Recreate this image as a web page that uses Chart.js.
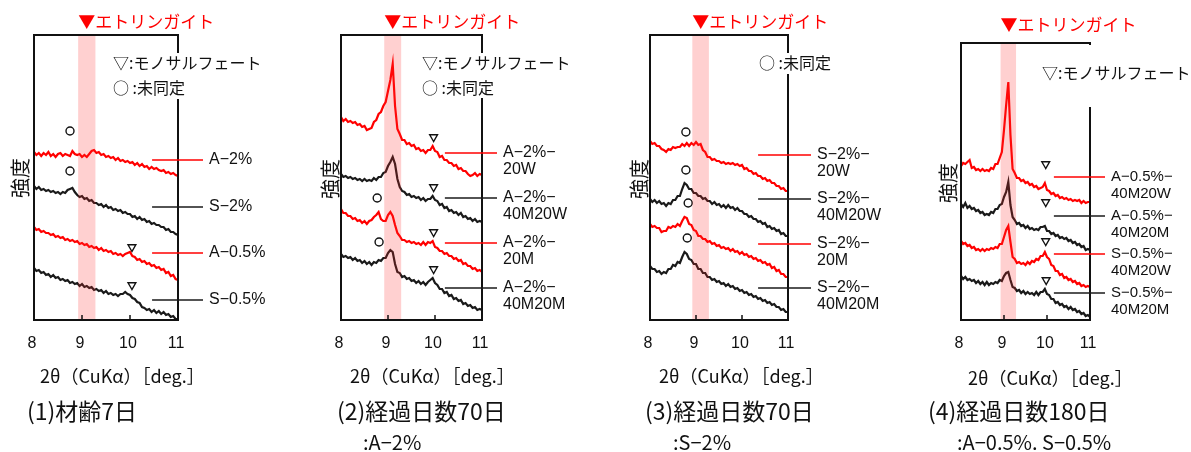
<!DOCTYPE html>
<html lang="ja">
<head>
<meta charset="UTF-8">
<title>XRD パターン</title>
<script src="https://cdn.jsdelivr.net/npm/chart.js"></script>
<style>
  body { margin: 0; background: #fff; }
  #wrap { position: relative; width: 1191px; height: 452px; overflow: hidden; }
  .panel { position: absolute; top: 0; }
</style>
</head>
<body>
<div id="wrap">
  <canvas class="panel" id="c1" width="300" height="452" style="left:0"></canvas>
  <canvas class="panel" id="c2" width="300" height="452" style="left:300px"></canvas>
  <canvas class="panel" id="c3" width="320" height="452" style="left:600px"></canvas>
  <canvas class="panel" id="c4" width="271" height="452" style="left:920px"></canvas>
</div>
<script>
// 2θ axis (deg.), shared by all panels
const twoTheta = [
  8.00, 8.05, 8.10, 8.15, 8.20, 8.25, 8.30, 8.35, 8.40, 8.45, 8.50, 8.55, 8.60, 8.65, 8.70, 8.75, 8.80, 8.85, 8.90, 8.95,
  9.00, 9.05, 9.10, 9.15, 9.20, 9.25, 9.30, 9.35, 9.40, 9.45, 9.50, 9.55, 9.60, 9.65, 9.70, 9.75, 9.80, 9.85, 9.90, 9.95,
  10.00, 10.05, 10.10, 10.15, 10.20, 10.25, 10.30, 10.35, 10.40, 10.45, 10.50, 10.55, 10.60, 10.65, 10.70, 10.75, 10.80, 10.85, 10.90, 10.95,
  11.00
];
const xTicks = [8, 9, 10, 11];
const ettringiteBand = [8.92, 9.28];

// (1) 材齢7日 — intensity (offset stacked)
const p1_A2 = [
  168, 165, 167, 164, 167, 165, 168, 164, 166, 163, 166, 167, 164, 166, 165, 164, 169, 166, 165, 166,
  163, 165, 163, 166, 169, 170, 167, 168, 165, 166, 163, 164, 162, 163, 160, 162, 159, 160, 158, 159,
  157, 158, 155, 157, 154, 156, 153, 154, 151, 153, 151, 152, 150, 149, 150, 147, 148, 146, 147, 145,
  144];
const p1_S2 = [
  134, 131, 133, 130, 131, 129, 130, 128, 129, 127, 128, 126, 128, 127, 130, 131, 132, 128, 125, 123,
  124, 121, 122, 119, 120, 117, 117, 115, 116, 113, 115, 112, 113, 110, 111, 109, 110, 107, 108, 106,
  106, 103, 104, 101, 103, 100, 101, 98, 99, 96, 97, 95, 95, 93, 93, 90, 91, 88, 88, 86,
  85];
const p1_A05 = [
  93, 90, 91, 88, 89, 87, 87, 85, 86, 83, 84, 82, 83, 80, 81, 79, 80, 78, 79, 76,
  77, 75, 76, 73, 74, 72, 73, 70, 72, 69, 70, 68, 69, 66, 67, 65, 66, 64, 66, 67,
  68, 64, 63, 60, 61, 58, 59, 56, 57, 54, 55, 52, 53, 50, 51, 47, 48, 44, 45, 41,
  40];
const p1_S05 = [
  52, 49, 50, 47, 48, 45, 46, 43, 45, 42, 43, 40, 41, 39, 40, 37, 38, 36, 37, 34,
  36, 33, 34, 32, 33, 30, 31, 29, 30, 27, 29, 26, 27, 25, 26, 24, 26, 26, 28, 26,
  25, 22, 21, 18, 17, 13, 12, 10, 11, 8, 10, 7, 9, 6, 8, 5, 6, 3, 4, 1,
  1];
const p1Labels = ['A−2%', 'S−2%', 'A−0.5%', 'S−0.5%'];
const p1LabelY = [160, 113, 67, 20];
const p1CircleX = [8.75, 8.75];
const p1CircleY = [189, 149];
const p1TriX = [10.04, 10.04];
const p1TriY = [73, 35];

// (2) 経過日数70日 : A-2%
const p2_20W = [
  203, 199, 201, 198, 199, 197, 198, 195, 196, 193, 194, 190, 191, 192, 198, 200, 206, 208, 214, 218,
  229, 240, 256, 214, 191, 186, 180, 180, 176, 177, 174, 175, 171, 172, 169, 170, 167, 170, 170, 174,
  169, 168, 163, 164, 160, 160, 157, 157, 154, 155, 151, 152, 149, 149, 146, 144, 145, 147, 144, 146,
  145];
const p2_40M20W = [
  146, 143, 144, 142, 143, 141, 142, 140, 141, 139, 141, 139, 140, 139, 142, 140, 143, 143, 147, 148,
  154, 158, 163, 156, 141, 133, 129, 128, 125, 126, 123, 124, 122, 123, 120, 122, 119, 121, 121, 124,
  120, 119, 115, 116, 112, 113, 109, 110, 107, 108, 105, 107, 103, 104, 101, 102, 99, 101, 98, 99,
  98];
const p2_20M = [
  111, 107, 107, 104, 104, 101, 102, 99, 100, 97, 99, 96, 99, 100, 103, 105, 108, 101, 99, 99,
  105, 108, 104, 95, 87, 84, 80, 80, 78, 79, 77, 78, 76, 77, 75, 78, 75, 78, 77, 79,
  73, 72, 69, 69, 66, 67, 64, 64, 61, 62, 59, 60, 56, 57, 54, 54, 51, 52, 49, 50,
  48];
const p2_40M20M = [
  66, 63, 64, 62, 63, 60, 62, 59, 60, 57, 59, 56, 58, 55, 58, 57, 60, 59, 62, 62,
  67, 70, 68, 56, 48, 47, 43, 44, 41, 42, 39, 40, 37, 39, 36, 38, 35, 38, 40, 42,
  37, 35, 31, 31, 27, 28, 24, 25, 21, 22, 19, 20, 16, 17, 14, 15, 12, 13, 10, 11,
  10];
const p2Labels = [['A−2%−', '20W'], ['A−2%−', '40M20W'], ['A−2%−', '20M'], ['A−2%−', '40M20M']];
const p2LabelY = [167, 122, 77, 32];
const p2CircleX = [8.77, 8.81];
const p2CircleY = [122, 78];
const p2TriX = [9.97, 9.97, 9.97, 9.97];
const p2TriY = [183, 133, 88, 51];

// (3) 経過日数70日 : S-2%
const p3_20W = [
  179, 176, 177, 174, 174, 171, 170, 168, 171, 170, 173, 172, 173, 173, 176, 174, 177, 174, 177, 175,
  178, 175, 176, 170, 168, 163, 163, 160, 161, 159, 159, 157, 158, 156, 157, 156, 157, 155, 156, 154,
  155, 151, 152, 149, 149, 146, 147, 144, 144, 141, 142, 139, 140, 137, 137, 134, 134, 131, 132, 129,
  129];
const p3_40M20W = [
  121, 118, 120, 117, 119, 116, 117, 114, 117, 116, 120, 120, 124, 124, 131, 137, 135, 131, 131, 127,
  127, 124, 124, 121, 122, 119, 119, 116, 118, 115, 116, 113, 115, 112, 115, 112, 113, 110, 112, 109,
  109, 106, 106, 103, 104, 101, 101, 98, 99, 96, 97, 93, 94, 91, 92, 89, 90, 86, 87, 84,
  84];
const p3_20M = [
  96, 93, 94, 92, 92, 88, 89, 89, 93, 92, 94, 93, 96, 94, 99, 103, 102, 96, 95, 90,
  89, 84, 84, 81, 81, 78, 79, 76, 77, 74, 75, 72, 73, 71, 72, 69, 71, 68, 69, 66,
  68, 65, 66, 63, 64, 61, 62, 59, 60, 57, 58, 55, 56, 52, 53, 49, 50, 46, 46, 43,
  43];
const p3_40M20M = [
  54, 51, 51, 48, 49, 46, 48, 47, 51, 51, 55, 54, 58, 57, 63, 68, 66, 61, 60, 56,
  56, 51, 51, 47, 47, 43, 43, 40, 41, 38, 39, 36, 37, 34, 36, 33, 34, 31, 32, 29,
  30, 27, 28, 25, 26, 23, 24, 21, 22, 19, 20, 17, 18, 15, 16, 13, 13, 10, 11, 8,
  8];
const p3Labels = [['S−2%−', '20W'], ['S−2%−', '40M20W'], ['S−2%−', '20M'], ['S−2%−', '40M20M']];
const p3LabelY = [165, 121, 76, 32];
const p3CircleX = [8.78, 8.78, 8.83, 8.81];
const p3CircleY = [188, 150, 117, 82];

// (4) 経過日数180日 : A-0.5%, S-0.5%
const p4_A05_W = [
  154, 157, 156, 158, 160, 152, 153, 150, 151, 149, 151, 149, 150, 149, 152, 151, 156, 156, 162, 168,
  190, 215, 238, 185, 151, 147, 142, 142, 139, 140, 137, 138, 135, 136, 133, 134, 131, 132, 133, 137,
  130, 129, 126, 127, 124, 125, 122, 123, 121, 122, 120, 121, 119, 120, 119, 120, 117, 119, 117, 118,
  118];
const p4_A05_M = [
  116, 113, 117, 112, 114, 111, 112, 109, 110, 107, 108, 105, 106, 105, 108, 107, 111, 111, 115, 116,
  123, 128, 138, 115, 103, 100, 96, 97, 94, 95, 92, 94, 91, 92, 90, 91, 90, 93, 93, 94,
  89, 89, 86, 87, 84, 85, 82, 83, 81, 82, 79, 80, 77, 78, 75, 76, 73, 74, 70, 71,
  70];
const p4_S05_W = [
  79, 76, 77, 74, 75, 72, 73, 70, 71, 69, 71, 69, 71, 70, 72, 71, 73, 72, 76, 76,
  83, 90, 94, 78, 63, 61, 57, 58, 56, 57, 55, 58, 56, 59, 58, 61, 60, 64, 64, 68,
  63, 61, 55, 54, 49, 49, 45, 46, 42, 43, 40, 41, 38, 39, 36, 37, 34, 35, 33, 34,
  33];
const p4_S05_M = [
  44, 41, 43, 40, 41, 39, 40, 37, 39, 36, 38, 35, 38, 35, 37, 36, 38, 37, 40, 39,
  44, 47, 48, 40, 33, 32, 29, 30, 27, 29, 26, 28, 26, 27, 25, 28, 25, 28, 28, 31,
  26, 25, 21, 21, 17, 18, 15, 16, 13, 14, 11, 13, 10, 11, 8, 9, 6, 7, 4, 5,
  3];
const p4Labels = [['A−0.5%−', '40M20W'], ['A−0.5%−', '40M20M'], ['S−0.5%−', '40M20W'], ['S−0.5%−', '40M20M']];
const p4LabelY = [143, 104, 66, 27];
const p4TriX = [9.97, 9.97, 9.97, 9.98];
const p4TriY = [156, 118, 79, 40];

const RED = '#ff0000';
const BLACK = '#1a1a1a';
const JP = '"Noto Sans CJK JP", sans-serif';
const LAT = '"Liberation Sans", Arial, sans-serif';

// decorations: frame, band, labels, captions
const decor = {
  id: 'decor',
  afterDatasetsDraw(chart, args, o) {
    const { ctx, chartArea: a, scales: { x, y } } = chart;
    ctx.save();
    // pink band
    const b0 = x.getPixelForValue(ettringiteBand[0]);
    const b1 = x.getPixelForValue(ettringiteBand[1]);
    ctx.fillStyle = 'rgba(255,40,40,0.22)';
    ctx.fillRect(b0, a.top, b1 - b0, a.bottom - a.top);

    // frame
    ctx.strokeStyle = '#111';
    ctx.lineWidth = 2;
    ctx.strokeRect(a.left, a.top, a.right - a.left, a.bottom - a.top);
    ctx.lineWidth = 1.5;
    xTicks.forEach(t => {
      if (t <= 8 || t >= 11) return;
      const px = x.getPixelForValue(t);
      ctx.beginPath(); ctx.moveTo(px, a.bottom); ctx.lineTo(px, a.bottom - 5); ctx.stroke();
    });

    // white box behind the legend
    if (o.cover) {
      ctx.fillStyle = '#fff';
      ctx.fillRect(a.right - 3, o.cover[0], 6, o.cover[1] - o.cover[0]);
    }
    ctx.textBaseline = 'middle';
    ctx.textAlign = 'left';
    ctx.fillStyle = '#111';
    ctx.font = '16px ' + JP;
    o.legend.forEach(l => ctx.fillText(l[0], o.legendX, l[1]));

    // title
    ctx.fillStyle = RED;
    ctx.font = '17px ' + JP;
    ctx.fillText('▼エトリンガイト', b0, o.titleY);

    // series labels with leader lines
    const lx0 = x.getPixelForValue(o.leadFrom);
    const lx1 = a.right + o.leadOver;
    o.labels.forEach((lab, i) => {
      const py = y.getPixelForValue(o.labelY[i]);
      const col = i % 2 === 0 ? RED : BLACK;
      ctx.strokeStyle = col;
      ctx.lineWidth = 1.5;
      ctx.beginPath(); ctx.moveTo(lx0, py); ctx.lineTo(lx1, py); ctx.stroke();
      ctx.fillStyle = '#111';
      ctx.font = o.labelFont + 'px ' + LAT;
      const lines = Array.isArray(lab) ? lab : [lab];
      lines.forEach((s, k) => ctx.fillText(s, lx1 + 6, py + k * o.labelGap));
    });

    // tick labels
    ctx.fillStyle = '#111';
    ctx.font = '16px ' + LAT;
    ctx.textAlign = 'center';
    xTicks.forEach(t => ctx.fillText(String(t), x.getPixelForValue(t) - 2, 344));

    // axis titles
    ctx.textAlign = 'left';
    ctx.font = '18px ' + JP;
    ctx.fillText('2θ（CuKα）［deg.］', o.axisTitle[0], o.axisTitle[1]);
    ctx.save();
    ctx.translate(o.yLabel[0], o.yLabel[1]);
    ctx.rotate(-Math.PI / 2);
    ctx.textAlign = 'center';
    ctx.font = '20px ' + JP;
    ctx.fillText('強度', 0, 0);
    ctx.restore();

    // caption
    ctx.font = '23px ' + JP;
    ctx.fillText(o.caption[0], o.captionX[0], 411);
    if (o.caption[1]) {
      ctx.font = '20px ' + JP;
      ctx.fillText(o.caption[1], o.captionX[1], 442);
    }
    ctx.restore();
  }
};

function xy(arr) {
  return twoTheta.map((t, i) => ({ x: t, y: arr[i] }));
}
function pts(xs, ys) {
  return xs.map((t, i) => ({ x: t, y: ys[i] }));
}
function trace(arr, col) {
  return { data: xy(arr), borderColor: col, borderWidth: 2.2, pointRadius: 0, tension: 0, fill: false };
}
function markers(xs, ys, style) {
  return {
    data: pts(xs, ys), showLine: false, pointStyle: style,
    rotation: style === 'triangle' ? 180 : 0,
    pointRadius: style === 'triangle' ? 4.5 : 4,
    borderColor: '#111', borderWidth: 1.4, backgroundColor: 'rgba(0,0,0,0)'
  };
}

function makeChart(id, pad, yMax, datasets, deco) {
  new Chart(document.getElementById(id), {
    type: 'line',
    data: { datasets },
    options: {
      responsive: false,
      animation: false,
      layout: { padding: pad },
      scales: {
        x: { type: 'linear', min: 8, max: 11, display: false },
        y: { min: 0, max: yMax, display: false }
      },
      plugins: { legend: { display: false }, tooltip: { enabled: false }, decor: deco }
    },
    plugins: [decor]
  });
}

makeChart('c1', { left: 34, right: 122, top: 35, bottom: 132 }, 285, [
  trace(p1_A2, RED), trace(p1_S2, BLACK), trace(p1_A05, RED), trace(p1_S05, BLACK),
  markers(p1CircleX, p1CircleY, 'circle'), markers(p1TriX, p1TriY, 'triangle')
], {
  titleY: 22, legendX: 113, legend: [['▽:モノサルフェート', 63], ['○ :未同定', 88]], cover: [53, 99],
  leadFrom: 10.46, leadOver: 25, labels: p1Labels, labelY: p1LabelY, labelFont: 16, labelGap: 16.7,
  axisTitle: [40, 376], yLabel: [20, 178], caption: ['(1)材齢7日'], captionX: [27]
});

makeChart('c2', { left: 41, right: 118, top: 35, bottom: 132 }, 285, [
  trace(p2_20W, RED), trace(p2_40M20W, BLACK), trace(p2_20M, RED), trace(p2_40M20M, BLACK),
  markers(p2CircleX, p2CircleY, 'circle'), markers(p2TriX, p2TriY, 'triangle')
], {
  titleY: 22, legendX: 122, legend: [['▽:モノサルフェート', 63], ['○ :未同定', 88]], cover: [53, 98],
  leadFrom: 10.21, leadOver: 15, labels: p2Labels, labelY: p2LabelY, labelFont: 16, labelGap: 16.7,
  axisTitle: [50, 376], yLabel: [30, 179], caption: ['(2)経過日数70日', ':A−2%'], captionX: [37, 63]
});

makeChart('c3', { left: 50, right: 132, top: 35, bottom: 132 }, 285, [
  trace(p3_20W, RED), trace(p3_40M20W, BLACK), trace(p3_20M, RED), trace(p3_40M20M, BLACK),
  markers(p3CircleX, p3CircleY, 'circle')
], {
  titleY: 22, legendX: 159, legend: [['○ :未同定', 63]], cover: [53, 74],
  leadFrom: 10.35, leadOver: 23, labels: p3Labels, labelY: p3LabelY, labelFont: 16, labelGap: 16.7,
  axisTitle: [59, 376], yLabel: [39, 179], caption: ['(3)経過日数70日', ':S−2%'], captionX: [45, 73]
});

makeChart('c4', { left: 41, right: 101, top: 43, bottom: 132 }, 277, [
  trace(p4_A05_W, RED), trace(p4_A05_M, BLACK), trace(p4_S05_W, RED), trace(p4_S05_M, BLACK),
  markers(p4TriX, p4TriY, 'triangle')
], {
  titleY: 25, legendX: 122, legend: [['▽:モノサルフェート', 73]], cover: [45, 107],
  leadFrom: 10.16, leadOver: 15, labels: p4Labels, labelY: p4LabelY, labelFont: 15, labelGap: 16.7,
  axisTitle: [48, 378], yLabel: [28, 183], caption: ['(4)経過日数180日', ':A−0.5%. S−0.5%'], captionX: [8, 37]
});
</script>
</body>
</html>
